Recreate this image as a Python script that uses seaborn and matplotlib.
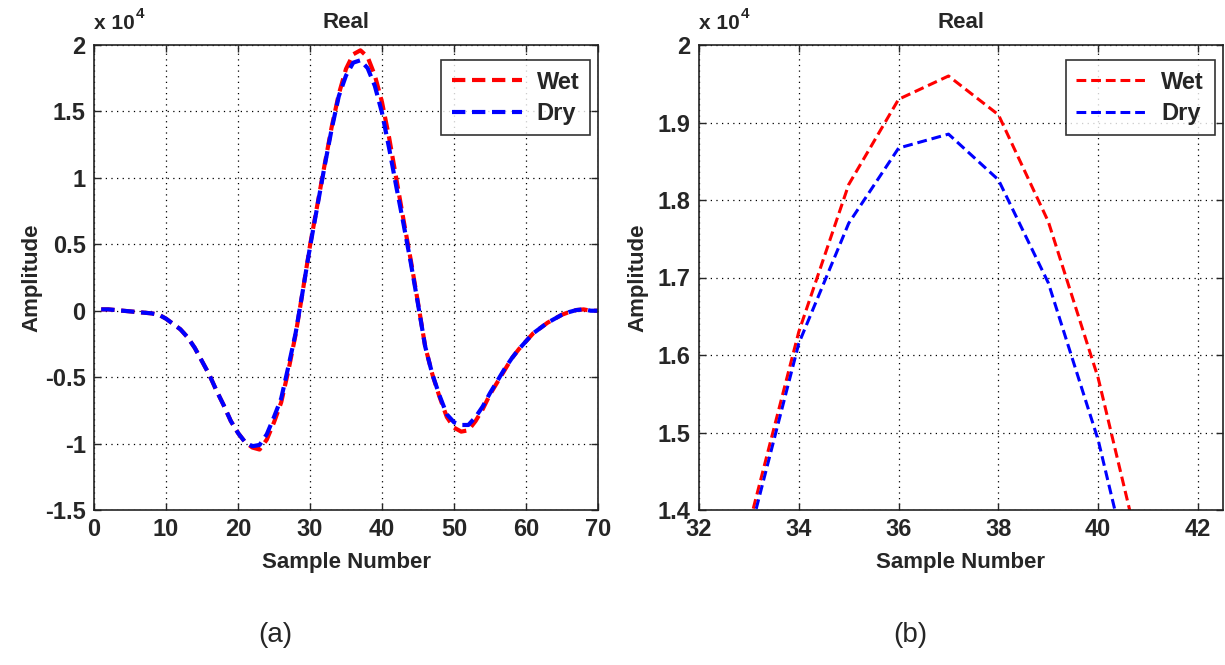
import numpy as np
import pandas as pd
import seaborn as sns
from matplotlib import pyplot as plt
from matplotlib import transforms

# sample numbers and amplitudes (in units of 1e4)
samples = list(range(1, 71))

wet = [0.01, 0.01, 0.005, 0.0, -0.005, -0.01, -0.015, -0.02, -0.03, -0.06,
       -0.10, -0.14, -0.20, -0.28, -0.38, -0.48, -0.60, -0.71, -0.83, -0.92,
       -0.99, -1.03, -1.045, -0.97, -0.84, -0.69, -0.45, -0.18, 0.15, 0.49,
       0.79, 1.09, 1.38, 1.63, 1.82, 1.93, 1.96, 1.91, 1.772, 1.57,
       1.30, 0.99, 0.68, 0.38, 0.06, -0.27, -0.48, -0.65, -0.80, -0.88,
       -0.91, -0.90, -0.83, -0.74, -0.63, -0.54, -0.45, -0.36, -0.29, -0.23,
       -0.17, -0.13, -0.09, -0.06, -0.03, -0.01, 0.005, 0.01, 0.0, 0.0]

dry = [0.01, 0.01, 0.005, 0.0, -0.005, -0.01, -0.015, -0.02, -0.03, -0.06,
       -0.10, -0.14, -0.20, -0.28, -0.38, -0.48, -0.60, -0.71, -0.83, -0.92,
       -0.99, -1.02, -1.01, -0.93, -0.80, -0.66, -0.42, -0.17, 0.15, 0.48,
       0.78, 1.08, 1.365, 1.615, 1.77, 1.867, 1.885, 1.826, 1.693, 1.49,
       1.22, 0.93, 0.65, 0.36, 0.05, -0.27, -0.48, -0.64, -0.78, -0.84,
       -0.86, -0.86, -0.80, -0.72, -0.62, -0.53, -0.44, -0.36, -0.29, -0.23,
       -0.17, -0.13, -0.09, -0.06, -0.03, -0.01, 0.005, 0.01, 0.0, 0.0]

series_names = ["Wet", "Dry"]
series_colors = ["#ff0000", "#0000ff"]

df = pd.DataFrame({"Sample": samples, "Wet": wet, "Dry": dry})

sns.set_style("ticks")
plt.rcParams['font.family'] = ['Liberation Sans', 'DejaVu Sans']
plt.rcParams['font.weight'] = 'bold'

fig = plt.figure(figsize=(12.25, 6.65), dpi=100)
ax1 = fig.add_axes([94/1225, 1 - 510/665, 504/1225, 465/665])
ax2 = fig.add_axes([699/1225, 1 - 510/665, 524/1225, 465/665])

panels = [
    (ax1, (0, 70), (-1.5, 2), np.arange(0, 71, 10), np.arange(-1.5, 2.01, 0.5), 3.0, "(a)", 2, 0.359),
    (ax2, (32, 42.5), (1.4, 2), np.arange(32, 43, 2), np.arange(1.4, 2.01, 0.1), 2.2, "(b)", 7, 0.403),
]

for ax, xl, yl, xt, yt, lw, tag, ypad, tagx in panels:
    for name, col in zip(series_names, series_colors):
        sns.lineplot(data=df, x="Sample", y=name, ax=ax, color=col, label=name,
                     linewidth=lw, linestyle=(0, (3.2, 1.6)))
    ax.set_xlim(*xl)
    ax.set_ylim(*yl)
    ax.set_xticks(xt)
    ax.set_yticks(yt)
    ax.set_xticklabels([f"{v:g}" for v in xt])
    ax.set_yticklabels([f"{v:g}" for v in np.round(yt, 2)])
    ax.grid(True, linestyle=(0, (1, 3.5)), color='black', linewidth=0.9)
    for s in ax.spines.values():
        s.set_visible(True)
        s.set_linewidth(1.2)
        s.set_color('#222222')
    ax.tick_params(direction='in', top=True, right=True, length=5, width=1,
                   labelsize=17, pad=6)
    ax.set_xlabel("Sample Number", fontsize=16, fontweight='bold', labelpad=8)
    ax.set_ylabel("Amplitude", fontsize=16, fontweight='bold', labelpad=ypad)
    ax.set_title("Real", fontsize=16, fontweight='bold', pad=12)
    ax.text(0.0, 1.025, "x 10", transform=ax.transAxes, fontsize=15,
            fontweight='bold', ha='left', va='bottom')
    sup = transforms.offset_copy(ax.transAxes, fig=fig, x=30, y=9, units='points')
    ax.text(0.0, 1.025, "4", transform=sup, fontsize=11, fontweight='bold',
            ha='left', va='bottom')
    leg = ax.legend(loc='upper right', fontsize=17, frameon=True, fancybox=False,
                    edgecolor='black', handlelength=3.0, borderpad=0.45,
                    labelspacing=0.35, handletextpad=0.6, borderaxespad=0,
                    bbox_to_anchor=(0.984, 0.968))
    leg.get_frame().set_linewidth(1.2)
    ax.text(tagx, -0.268, tag, transform=ax.transAxes, fontsize=20,
            fontweight='normal', ha='center', va='center')

fig.savefig("out.png", dpi=100)
